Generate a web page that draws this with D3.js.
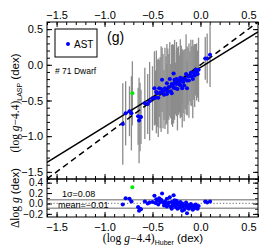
<!DOCTYPE html>
<html><head><meta charset="utf-8">
<script src="https://cdn.jsdelivr.net/npm/d3@7"></script>
<style>body{margin:0;background:#fff} svg{display:block} text{font-family:"Liberation Sans",Arial,sans-serif}</style>
</head><body><svg id="c" width="277" height="246"></svg>
<script>
// ---- data ----
const hubX = [-0.81,-0.78,-0.74,-0.72,-0.65,-0.64,-0.63,-0.62,-0.58,-0.55,-0.53,-0.50,-0.48,-0.47,-0.46,-0.45,-0.44,-0.43,-0.42,-0.41,-0.40,-0.39,-0.38,-0.37,-0.36,-0.35,-0.35,-0.34,-0.33,-0.32,-0.31,-0.30,-0.30,-0.29,-0.28,-0.28,-0.27,-0.27,-0.26,-0.25,-0.25,-0.24,-0.23,-0.22,-0.21,-0.21,-0.20,-0.19,-0.19,-0.18,-0.17,-0.16,-0.15,-0.14,-0.14,-0.13,-0.12,-0.11,-0.10,-0.09,-0.08,-0.07,-0.06,-0.05,-0.04,-0.03,-0.02,0.05,0.07,0.10];
const laspY = [-0.83,-0.68,-0.65,-0.68,-0.72,-0.78,-0.73,-0.73,-0.54,-0.55,-0.51,-0.47,-0.33,-0.46,-0.38,-0.40,-0.46,-0.33,-0.39,-0.34,-0.21,-0.37,-0.42,-0.33,-0.36,-0.26,-0.41,-0.37,-0.31,-0.20,-0.37,-0.27,-0.40,-0.29,-0.12,-0.32,-0.25,-0.21,-0.33,-0.20,-0.27,-0.34,-0.22,-0.27,-0.18,-0.29,-0.23,-0.19,-0.33,-0.24,-0.29,-0.20,-0.13,-0.33,-0.22,-0.16,-0.22,-0.16,-0.11,-0.16,-0.20,-0.11,-0.15,-0.07,-0.10,-0.13,-0.07,0.09,0.09,0.14];
const laspErr = [0.57,0.45,0.35,0.52,0.40,0.60,0.48,0.38,0.50,0.42,0.55,0.45,0.52,0.38,0.58,0.47,0.55,0.40,0.50,0.60,0.45,0.52,0.35,0.57,0.48,0.55,0.42,0.60,0.46,0.52,0.38,0.55,0.44,0.58,0.40,0.50,0.46,0.56,0.36,0.52,0.44,0.58,0.48,0.40,0.54,0.46,0.50,0.37,0.55,0.44,0.50,0.42,0.56,0.38,0.48,0.40,0.52,0.35,0.46,0.42,0.55,0.38,0.44,0.36,0.40,0.33,0.45,0.30,0.35,0.45];
const hubErr = 0.02;
const outX = [-0.71], outY = [-0.40], outErr = [0.45];
const fitLine = [0.831, -0.038]; // slope, intercept
const xTicks = [-1.5,-1.0,-0.5,0.0,0.5];
const yTicks = [-1.5,-1.0,-0.5,0.0,0.5];
const rTicks = [-0.2,0.0,0.2,0.4];
const sigma = 0.08, meanD = -0.01;

// ---- layout ----
const svg = d3.select("#c");
const L=47,R=258,T=22,B=179,RB=217;
const x = d3.scaleLinear().domain([-1.6,0.6]).range([L,R]);
const y = d3.scaleLinear().domain([-1.6,0.6]).range([B,T]);
const yr = d3.scaleLinear().domain([-0.26,0.47]).range([RB,B]);
const fmt = d3.format(".1f");
const minorX = d3.range(-16,7).map(d=>d/10);
const minorY = d3.range(-16,7).map(d=>d/10);
const minorR = d3.range(-2,5).map(d=>d/10);

svg.append("clipPath").attr("id","cm").append("rect").attr("x",L).attr("y",T).attr("width",R-L).attr("height",B-T);
svg.append("clipPath").attr("id","cr").append("rect").attr("x",L).attr("y",B).attr("width",R-L).attr("height",RB-B);

function ax(gen, pos, ticks, size, labels, pad, fs){
  const g = svg.append("g").attr("transform",pos);
  g.call(gen.tickValues(ticks).tickSize(size).tickPadding(pad).tickFormat(labels?fmt:""));
  g.select(".domain").remove();
  g.selectAll("line").attr("stroke","#000");
  g.selectAll("text").attr("font-size",fs||11).attr("font-family","Liberation Sans, Arial, sans-serif").attr("fill","#000");
  return g;
}
// main axes
ax(d3.axisTop(x), `translate(0,${T})`, xTicks, -5, true, 3);
ax(d3.axisTop(x), `translate(0,${T})`, minorX, -3, false, 3);
ax(d3.axisBottom(x), `translate(0,${B})`, xTicks, -5, false, 3);
ax(d3.axisBottom(x), `translate(0,${B})`, minorX, -3, false, 3);
ax(d3.axisLeft(y), `translate(${L},0)`, yTicks, -5, true, 4);
ax(d3.axisLeft(y), `translate(${L},0)`, minorY, -3, false, 4);
ax(d3.axisRight(y), `translate(${R},0)`, yTicks, -5, false, 4);
ax(d3.axisRight(y), `translate(${R},0)`, minorY, -3, false, 4);
// residual axes
ax(d3.axisTop(x), `translate(0,${B})`, xTicks, -5, false, 3);
ax(d3.axisTop(x), `translate(0,${B})`, minorX, -3, false, 3);
ax(d3.axisBottom(x), `translate(0,${RB})`, xTicks, -5, true, 6);
ax(d3.axisBottom(x), `translate(0,${RB})`, minorX, -3, false, 6);
ax(d3.axisLeft(yr), `translate(${L},0)`, rTicks, -5, true, 4, 10);
ax(d3.axisLeft(yr), `translate(${L},0)`, minorR, -3, false, 4);
ax(d3.axisRight(yr), `translate(${R},0)`, rTicks, -5, false, 4);
ax(d3.axisRight(yr), `translate(${R},0)`, minorR, -3, false, 4);

// main plot content
const gm = svg.append("g").attr("clip-path","url(#cm)");
gm.selectAll(".eb").data(hubX).join("line")
  .attr("x1",(d)=>x(d)).attr("x2",(d)=>x(d))
  .attr("y1",(d,i)=>y(laspY[i]-laspErr[i])).attr("y2",(d,i)=>y(laspY[i]+laspErr[i]))
  .attr("stroke","#8c8c8c").attr("stroke-width",1.3);
gm.selectAll(".ebo").data(outX).join("line")
  .attr("x1",d=>x(d)).attr("x2",d=>x(d))
  .attr("y1",(d,i)=>y(outY[i]-outErr[i])).attr("y2",(d,i)=>y(outY[i]+outErr[i]))
  .attr("stroke","#8c8c8c").attr("stroke-width",1.3);
const xd = x.domain();
gm.append("line").attr("x1",x(xd[0])).attr("y1",y(xd[0])).attr("x2",x(xd[1])).attr("y2",y(xd[1]))
  .attr("stroke","#000").attr("stroke-width",1.5).attr("stroke-dasharray","6,4");
gm.append("line").attr("x1",x(xd[0])).attr("y1",y(fitLine[0]*xd[0]+fitLine[1]))
  .attr("x2",x(xd[1])).attr("y2",y(fitLine[0]*xd[1]+fitLine[1]))
  .attr("stroke","#000").attr("stroke-width",1.5);
gm.selectAll(".hb").data(hubX).join("line")
  .attr("x1",d=>x(d-hubErr)).attr("x2",d=>x(d+hubErr))
  .attr("y1",(d,i)=>y(laspY[i])).attr("y2",(d,i)=>y(laspY[i]))
  .attr("stroke","#0000ff").attr("stroke-width",1);
gm.selectAll(".pt").data(hubX).join("circle")
  .attr("cx",d=>x(d)).attr("cy",(d,i)=>y(laspY[i])).attr("r",2).attr("fill","#0000ff");
gm.selectAll(".hbo").data(outX).join("line")
  .attr("x1",d=>x(d-hubErr)).attr("x2",d=>x(d+hubErr))
  .attr("y1",(d,i)=>y(outY[i])).attr("y2",(d,i)=>y(outY[i]))
  .attr("stroke","#00ee00").attr("stroke-width",1);
gm.selectAll(".pto").data(outX).join("circle")
  .attr("cx",d=>x(d)).attr("cy",(d,i)=>y(outY[i])).attr("r",2).attr("fill","#00ee00");

// residual content
const gr = svg.append("g").attr("clip-path","url(#cr)");
[meanD+sigma, meanD-sigma].forEach(v=>{
  gr.append("line").attr("x1",L).attr("x2",R).attr("y1",yr(v)).attr("y2",yr(v)).attr("stroke","#999").attr("stroke-width",1.5);
});
gr.append("line").attr("x1",L).attr("x2",R).attr("y1",yr(0)).attr("y2",yr(0))
  .attr("stroke","#888").attr("stroke-width",1.2).attr("stroke-dasharray","1.2,2");
gr.selectAll(".rh").data(hubX).join("line")
  .attr("x1",d=>x(d-hubErr)).attr("x2",d=>x(d+hubErr))
  .attr("y1",(d,i)=>yr(laspY[i]-d)).attr("y2",(d,i)=>yr(laspY[i]-d))
  .attr("stroke","#0000ff").attr("stroke-width",1);
gr.selectAll(".rp").data(hubX).join("circle")
  .attr("cx",d=>x(d)).attr("cy",(d,i)=>yr(laspY[i]-d)).attr("r",2).attr("fill","#0000ff");
gr.selectAll(".rpo").data(outX).join("circle")
  .attr("cx",d=>x(d)).attr("cy",(d,i)=>yr(outY[i]-d)).attr("r",2).attr("fill","#00ee00");
gr.append("text").attr("x",62).attr("y",197).attr("font-size",9).text(`1σ=${sigma.toFixed(2)}`);
gr.append("text").attr("x",58).attr("y",207.5).attr("font-size",9).text(`mean=${d3.format(".2f")(meanD)}`);

// frames
svg.append("rect").attr("x",L).attr("y",T).attr("width",R-L).attr("height",B-T).attr("fill","none").attr("stroke","#000").attr("stroke-width",1);
svg.append("rect").attr("x",L).attr("y",B).attr("width",R-L).attr("height",RB-B).attr("fill","none").attr("stroke","#000").attr("stroke-width",1);

// legend
svg.append("rect").attr("x",55).attr("y",29).attr("width",42).attr("height",28).attr("fill","#fff").attr("stroke","#000").attr("stroke-width",1);
svg.append("circle").attr("cx",68).attr("cy",44).attr("r",2).attr("fill","#0000ff");
svg.append("text").attr("x",74).attr("y",47.5).attr("font-size",10).text("AST");
svg.append("text").attr("x",107).attr("y",42).attr("font-size",14).text("(g)");
svg.append("text").attr("x",55).attr("y",74).attr("font-size",8.5).text("# 71 Dwarf");

// axis titles
const serif = "Liberation Serif, Times New Roman, serif";
function title(t, parts){
  parts.forEach(p=>{
    const s = t.append("tspan").text(p.t);
    if(p.serif) s.attr("font-family",serif);
    if(p.it) s.attr("font-style","italic");
    if(p.fs) s.attr("font-size",p.fs);
    if(p.dy) s.attr("dy",p.dy);
  });
}
const ty = svg.append("text").attr("transform","translate(19,103) rotate(-90)").attr("text-anchor","middle").attr("font-size",11.5);
title(ty,[{t:"(log ",serif:1},{t:"g",serif:1,it:1},{t:"−4.4)",serif:1},{t:"LASP",fs:7,dy:3},{t:" (dex)",dy:-3}]);
const tr = svg.append("text").attr("transform","translate(19,198) rotate(-90)").attr("text-anchor","middle").attr("font-size",11.5);
title(tr,[{t:"Δlog ",serif:1},{t:"g",serif:1,it:1},{t:" (dex)"}]);
const tx = svg.append("text").attr("x",153).attr("y",242).attr("text-anchor","middle").attr("font-size",11.5);
title(tx,[{t:"(log ",serif:1},{t:"g",serif:1,it:1},{t:"−4.4)",serif:1},{t:"Huber",fs:7,dy:3},{t:" (dex)",dy:-3}]);
</script></body></html>
